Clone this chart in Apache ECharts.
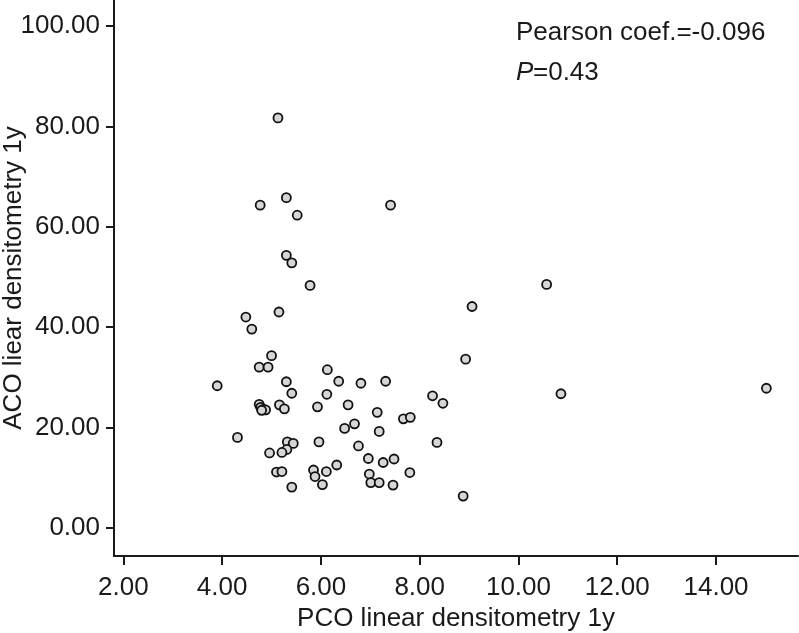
<!DOCTYPE html>
<html>
<head>
<meta charset="utf-8">
<script src="https://cdn.jsdelivr.net/npm/echarts@6/dist/echarts.min.js"></script>
<style>
html,body{margin:0;padding:0;background:#fff;}
#chart{width:799px;height:633px;}
</style>
</head>
<body>
<div id="chart"></div>
<script>
// PCO linear densitometry 1y (x)
const pcoValues = [
  5.13, 4.77, 5.30, 5.52, 7.41, 5.30, 5.41, 5.78, 5.15, 4.48,
  4.60, 5.00, 4.75, 4.93, 3.90, 5.30, 5.41, 6.13, 6.36, 6.12,
  5.93, 6.55, 4.75, 4.78, 4.83, 4.88, 4.80, 5.16, 5.26, 4.31,
  5.32, 5.44, 5.31, 5.21, 4.96, 5.96, 6.48, 5.10, 5.21, 5.41,
  5.85, 5.88, 6.11, 6.32, 6.03, 9.06, 8.93, 6.81, 7.31, 7.14,
  8.26, 8.47, 6.68, 7.18, 7.67, 7.81, 6.76, 8.35, 6.96, 7.26,
  7.48, 6.98, 7.01, 7.18, 7.46, 7.80, 8.88, 10.86, 15.02, 10.57
];
// ACO liear densitometry 1y (y)
const acoValues = [
  81.7, 64.3, 65.8, 62.3, 64.3, 54.3, 52.8, 48.3, 43.0, 42.0,
  39.6, 34.3, 32.0, 32.0, 28.3, 29.1, 26.8, 31.5, 29.2, 26.6,
  24.1, 24.5, 24.6, 24.0, 23.6, 23.5, 23.4, 24.5, 23.7, 18.0,
  17.1, 16.8, 15.6, 15.0, 14.9, 17.1, 19.8, 11.1, 11.2, 8.1,
  11.5, 10.2, 11.2, 12.5, 8.6, 44.1, 33.6, 28.8, 29.2, 23.0,
  26.3, 24.8, 20.7, 19.2, 21.7, 22.0, 16.3, 17.0, 13.8, 13.0,
  13.7, 10.7, 9.0, 9.0, 8.5, 11.0, 6.3, 26.7, 27.8, 48.5
];
const xTicks = [2, 4, 6, 8, 10, 12, 14];
const yTicks = [0, 20, 40, 60, 80, 100];
const xName = 'PCO linear densitometry 1y';
const yName = 'ACO liear densitometry 1y';
const statLine1 = 'Pearson coef.=-0.096';
const statP = 'P';
const statLine2 = '=0.43';

const points = pcoValues.map((x, i) => [x, acoValues[i]]);
const FONT = 'Liberation Sans, Arial, sans-serif';
const FS = 26;
const chart = echarts.init(document.getElementById('chart'), null, {renderer: 'canvas'});
chart.setOption({
  animation: false,
  backgroundColor: '#ffffff',
  grid: {left: 114, right: 1, top: 0, bottom: 77, containLabel: false, outerBoundsMode: 'none'},
  xAxis: {
    type: 'value',
    min: 1.81, max: 15.66,
    name: xName, nameLocation: 'middle', nameGap: 50, nameMoveOverlap: false,
    nameTextStyle: {fontFamily: FONT, fontSize: FS, color: '#1a1a1a'},
    axisLine: {onZero: false, lineStyle: {color: '#1a1a1a', width: 2}},
    axisTick: {show: true, length: 9, lineStyle: {color: '#1a1a1a', width: 2},
      customValues: xTicks},
    axisLabel: {fontFamily: FONT, fontSize: FS, color: '#1a1a1a', margin: 19,
      customValues: xTicks, formatter: v => v.toFixed(2)},
    splitLine: {show: false}
  },
  yAxis: {
    type: 'value',
    min: -5.64, max: 105.2,
    name: yName, nameLocation: 'middle', nameGap: 87, nameRotate: 90, nameMoveOverlap: false,
    nameTextStyle: {fontFamily: FONT, fontSize: FS, color: '#1a1a1a'},
    axisLine: {onZero: false, lineStyle: {color: '#1a1a1a', width: 2}},
    axisTick: {show: true, length: 8, lineStyle: {color: '#1a1a1a', width: 2},
      customValues: yTicks},
    axisLabel: {fontFamily: FONT, fontSize: FS, color: '#1a1a1a', margin: 14,
      customValues: yTicks, formatter: v => v.toFixed(2)},
    splitLine: {show: false}
  },
  series: [{
    type: 'scatter',
    data: points,
    symbol: 'circle',
    symbolSize: 9,
    itemStyle: {color: '#d6d6d6', borderColor: '#111', borderWidth: 1.8, opacity: 1}
  }],
  graphic: [
    {type: 'text', left: 516, top: 20,
      style: {text: statLine1, font: FS + 'px ' + FONT, fill: '#1a1a1a'}},
    {type: 'text', left: 516, top: 60,
      style: {text: statP, font: 'italic ' + FS + 'px ' + FONT, fill: '#1a1a1a'}},
    {type: 'text', left: 533, top: 60,
      style: {text: statLine2, font: FS + 'px ' + FONT, fill: '#1a1a1a'}}
  ]
});
</script>
</body>
</html>
